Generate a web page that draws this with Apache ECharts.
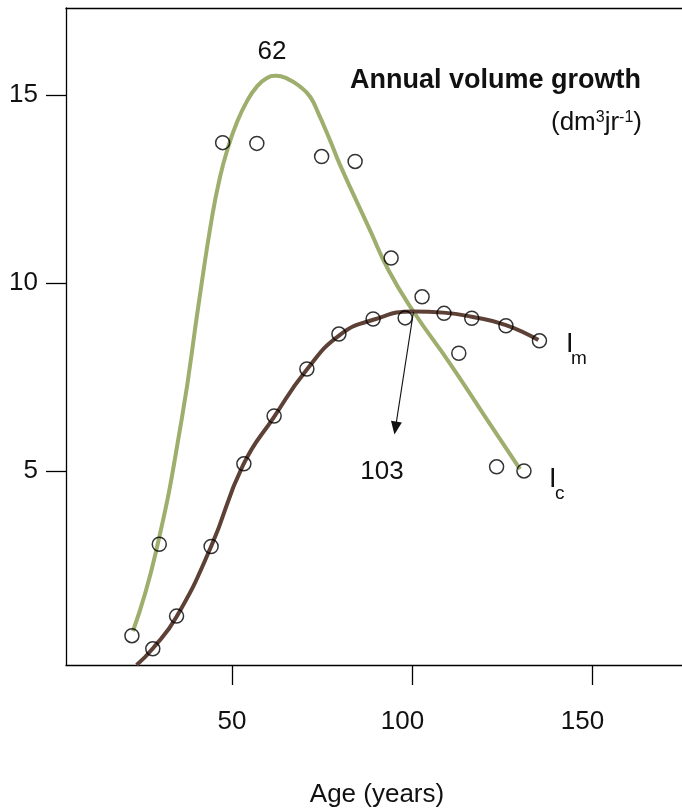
<!DOCTYPE html>
<html><head><meta charset="utf-8">
<script src="https://cdn.jsdelivr.net/npm/echarts@6/dist/echarts.min.js"></script>
<style>html,body{margin:0;padding:0;background:#fff}#c{width:682px;height:808px}</style>
</head><body><div id="c"></div>
<script>
// ---- data ----
const xTicks = [50, 100, 150];
const yTicks = [5, 10, 15];
const obsAge    = [22.2, 28.0, 29.8, 34.6, 44.2, 47.4, 53.3, 56.9, 61.7, 70.8, 74.9, 79.7, 84.2, 89.2, 94.2, 98.1, 102.8, 108.9, 113.0, 116.6, 123.5, 126.1, 131.1, 135.4];
const obsGrowth = [0.62, 0.27, 3.05, 1.14, 2.99, 13.73, 5.19, 13.71, 6.46, 7.71, 13.36, 8.64, 13.23, 9.04, 10.66, 9.07, 9.63, 9.19, 8.13, 9.06, 5.11, 8.86, 5.00, 8.46];
const icAge    = [22.5, 28.8, 36.0, 40.9, 44.4, 46.7, 49.0, 51.3, 54.1, 56.9, 59.6, 62.2, 65.2, 68.9, 71.7, 74.0, 77.2, 80.0, 88.3, 93.4, 100.4, 110.6, 120.75, 130.0];
const icGrowth = [0.74, 2.82, 6.36, 9.55, 11.72, 12.83, 13.63, 14.25, 14.82, 15.22, 15.44, 15.51, 15.44, 15.22, 14.95, 14.51, 13.80, 13.14, 11.41, 10.35, 9.24, 7.85, 6.38, 5.05];
const imAge    = [23.5, 28.0, 34.6, 44.2, 53.1, 61.7, 70.75, 80.0, 89.25, 100.4, 108.7, 116.6, 126.1, 135.1];
const imGrowth = [-0.16, 0.28, 1.12, 2.99, 5.16, 6.44, 7.69, 8.62, 9.02, 9.24, 9.21, 9.10, 8.88, 8.48];
const arrowFrom = [100.4, 9.23];
const arrowTo   = [95.4, 6.14];
const peakLabel = '62';
const maxMaiLabel = '103';

const FONT = '"Liberation Sans", Arial, Helvetica, sans-serif';
const GREEN = '#9dae6d';
const BROWN = '#5d4137';
const zip = (a, b) => a.map((v, i) => [v, b[i]]);

const chart = echarts.init(document.getElementById('c'), null, {renderer: 'canvas'});
const axisLine = {show: true, onZero: false, lineStyle: {color: '#000', width: 1.3}};
chart.setOption({
  animation: false,
  backgroundColor: '#fff',
  grid: {left: 66, right: 0, top: 8, bottom: 143, containLabel: false, outerBoundsMode: 'none'},
  xAxis: [{
    type: 'value', min: 3.89, max: 175, position: 'bottom',
    axisLine: axisLine,
    axisTick: {show: true, customValues: xTicks, length: 20, inside: false, lineStyle: {color: '#000', width: 1.3}},
    axisLabel: {
      show: true, customValues: xTicks, margin: 44,
      formatter: v => v === 50 ? '{a|' + v + '}' : '{b|' + v + '}',
      rich: {
        a: {fontSize: 26, fontFamily: FONT, color: '#111'},
        b: {fontSize: 26, fontFamily: FONT, color: '#111', padding: [0, 19, 0, 0]}
      }
    },
    splitLine: {show: false},
    name: 'Age (years)', nameLocation: 'middle', nameGap: 117,
    nameTextStyle: {fontSize: 26, fontFamily: FONT, color: '#111', padding: [0, 0, 0, 6]}
  }, {
    type: 'value', min: 3.89, max: 175, position: 'top',
    axisLine: axisLine, axisTick: {show: false}, axisLabel: {show: false}, splitLine: {show: false}
  }],
  yAxis: [{
    type: 'value', min: -0.16, max: 17.31,
    axisLine: axisLine,
    axisTick: {show: true, customValues: yTicks, length: 20, inside: false, lineStyle: {color: '#000', width: 1.3}},
    axisLabel: {show: true, customValues: yTicks, margin: 28, fontSize: 26, fontFamily: FONT, color: '#111'},
    splitLine: {show: false}
  }],
  series: [{
    name: 'Ic', type: 'line', data: zip(icAge, icGrowth), smooth: 0.5, smoothConstraint: false, showSymbol: false,
    lineStyle: {color: GREEN, width: 4}, z: 2
  }, {
    name: 'Im', type: 'line', data: zip(imAge, imGrowth), smooth: 0.5, smoothConstraint: false, showSymbol: false,
    lineStyle: {color: BROWN, width: 4}, z: 3,
    markLine: {
      silent: true, symbol: ['none', 'triangle'], symbolSize: [11, 13], precision: 3,
      label: {show: false},
      lineStyle: {color: '#111', width: 1.1, type: 'solid'},
      itemStyle: {color: '#111'},
      data: [[{coord: arrowFrom}, {coord: arrowTo}]]
    }
  }, {
    name: 'obs', type: 'scatter', data: zip(obsAge, obsGrowth), symbol: 'circle', symbolSize: 14,
    itemStyle: {color: 'rgba(255,255,255,0)', borderColor: '#000', borderWidth: 1.5}, z: 5
  }],
  graphic: [
    {type: 'text', style: {text: peakLabel, x: 272, y: 52, align: 'center', verticalAlign: 'middle', font: '26px ' + FONT, fill: '#111'}},
    {type: 'text', style: {text: maxMaiLabel, x: 382, y: 472, align: 'center', verticalAlign: 'middle', font: '26px ' + FONT, fill: '#111'}},
    {type: 'text', style: {text: 'Annual volume growth', x: 641, y: 81, align: 'right', verticalAlign: 'middle', font: 'bold 27px ' + FONT, fill: '#111'}},
    {type: 'text', style: {
      text: '{p|(dm}{s|3}{p|jr}{s|-1}{p|)}', x: 642, y: 123, align: 'right', verticalAlign: 'middle',
      rich: {
        p: {fontSize: 26, fontFamily: FONT, fill: '#111', height: 30},
        s: {fontSize: 16, fontFamily: FONT, fill: '#111', verticalAlign: 'top', height: 30, padding: [0, 0, 10, 0]}
      }
    }},
    {type: 'text', style: {text: 'I', x: 566, y: 345, align: 'left', verticalAlign: 'middle', font: '27px ' + FONT, fill: '#111'}},
    {type: 'text', style: {text: 'm', x: 571, y: 359, align: 'left', verticalAlign: 'middle', font: '19px ' + FONT, fill: '#111'}},
    {type: 'text', style: {text: 'I', x: 549, y: 480, align: 'left', verticalAlign: 'middle', font: '27px ' + FONT, fill: '#111'}},
    {type: 'text', style: {text: 'c', x: 555, y: 494, align: 'left', verticalAlign: 'middle', font: '19px ' + FONT, fill: '#111'}}
  ]
});
</script></body></html>
